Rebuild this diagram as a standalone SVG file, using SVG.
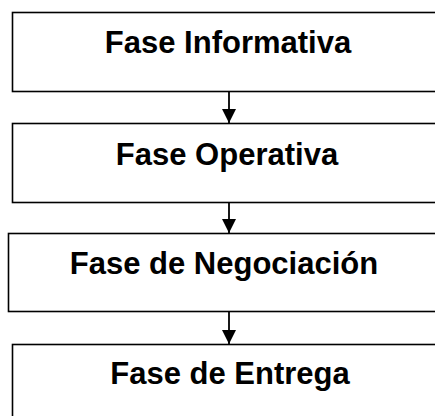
<svg xmlns="http://www.w3.org/2000/svg" width="435" height="416" viewBox="0 0 435 416">
<style>
.box{fill:#fff;stroke:#000;stroke-width:1.6}
.lbl{font-family:"Liberation Sans",Arial,sans-serif;font-weight:bold;font-size:31px;fill:#000;text-anchor:middle}
.conn{stroke:#000;stroke-width:1.8;fill:none}
</style>
<defs>
<marker id="ah" markerUnits="userSpaceOnUse" markerWidth="16" markerHeight="16" refX="14" refY="7" orient="auto">
<path d="M0,0 L14,7 L0,14 Z" fill="#000"/>
</marker>
</defs>
<rect width="435" height="416" fill="#fff"/>
<g id="n1"><rect class="box" x="12.5" y="12.5" width="440" height="79"/><text class="lbl" x="228" y="53">Fase Informativa</text></g>
<g id="n2"><rect class="box" x="12.5" y="123.5" width="440" height="79"/><text class="lbl" x="227" y="165">Fase Operativa</text></g>
<g id="n3"><rect class="box" x="8.5" y="233.5" width="440" height="78"/><text class="lbl" x="224" y="274">Fase de Negociación</text></g>
<g id="n4"><rect class="box" x="12.5" y="344.5" width="440" height="90"/><text class="lbl" x="230" y="384">Fase de Entrega</text></g>
<g id="connectors">
<line class="conn" x1="229" y1="92" x2="229" y2="123" marker-end="url(#ah)"/>
<line class="conn" x1="229" y1="203" x2="229" y2="233" marker-end="url(#ah)"/>
<line class="conn" x1="229" y1="312" x2="229" y2="344" marker-end="url(#ah)"/>
</g>
</svg>
